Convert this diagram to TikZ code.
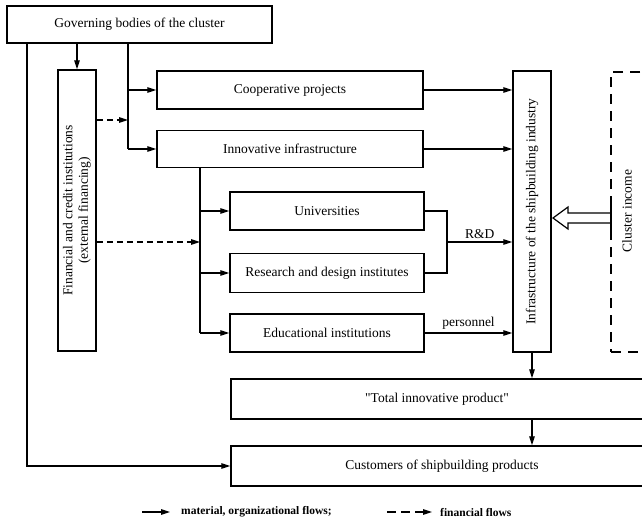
\documentclass[tikz,border=0pt]{standalone}
\usepackage{fontspec}
\setmainfont{Liberation Serif}
\usetikzlibrary{arrows.meta}
\begin{document}
\begin{tikzpicture}[x=1pt,y=-1pt]
\tikzset{
  box/.style={draw, line width=1.5pt, inner sep=0pt, align=center,
              font=\fontsize{13.5}{15}\selectfont},
  vtext/.style={rotate=90, inner sep=0pt, align=center,
              font=\fontsize{13.5}{15.5}\selectfont},
  link/.style={line width=1.4pt},
  flow/.style={line width=1.4pt, -{Triangle[length=9pt,width=5.5pt]}},
  finflow/.style={flow, dash pattern=on 6pt off 4pt},
  flowlabel/.style={midway, above=3pt, inner sep=0pt, font=\fontsize{13.5}{15}\selectfont},
  legendtext/.style={anchor=west, inner sep=0pt, font=\fontsize{11.5}{13}\selectfont\bfseries},
}
\useasboundingbox (0,0) rectangle (642,520);

% boxes
\node[box, minimum width=265pt, minimum height=37pt] (gov) at (139.5,24.5) {Governing bodies of the cluster};
\node[box, minimum width=38pt, minimum height=281pt] (fin) at (77,210.5) {};
\node[vtext] (fintext) at (fin.center) {Financial and credit institutions\\(external financing)};
\node[box, minimum width=266pt, minimum height=38pt] (coop) at (290,90) {Cooperative projects};
\node[box, minimum width=266pt, minimum height=37pt] (innov) at (290,149) {Innovative infrastructure};
\node[box, minimum width=194pt, minimum height=38pt] (univ) at (327,211) {Universities};
\node[box, minimum width=194pt, minimum height=39pt] (res) at (327,273) {Research and design institutes};
\node[box, minimum width=194pt, minimum height=38pt] (edu) at (327,333) {Educational institutions};
\node[box, minimum width=38pt, minimum height=281pt] (infra) at (532,211.5) {};
\node[vtext] (infratext) at (infra.center) {Infrastructure of the shipbuilding industry};
\node[box, dash pattern=on 10pt off 7pt, minimum width=36pt, minimum height=280pt] (income) at (629,212) {};
\node[vtext] (incometext) at (627,211) {Cluster income};
\node[box, minimum width=412pt, minimum height=40pt] (total) at (437,399) {\textquotedbl Total innovative product\textquotedbl};
\node[box, minimum width=422pt, minimum height=40pt] (cust) at (442,466) {Customers of shipbuilding products};

% branch points
\coordinate (b) at (128,0);
\coordinate (l) at (27,0);
\coordinate (t) at (200,0);
\coordinate (d1) at (128,120);
\coordinate (d2) at (200,242);
\coordinate (rd) at (447,242);

% governing bodies
\draw[flow] (gov.south -| fin.north) -- (fin.north);
\draw[link] (gov.south -| b) -- (innov.west -| b);
\draw[flow] (coop.west -| b) -- (coop.west);
\draw[flow] (innov.west -| b) -- (innov.west);
\draw[flow] (gov.south -| l) |- (cust.west);

% financing
\draw[finflow] (fin.east |- d1) -- (d1);
\draw[finflow] (fin.east |- d2) -- (d2);

% innovative infrastructure
\draw[link] (innov.south -| t) -- (edu.west -| t);
\draw[flow] (univ.west -| t) -- (univ.west);
\draw[flow] (res.west -| t) -- (res.west);
\draw[flow] (edu.west -| t) -- (edu.west);

% into the shipbuilding industry
\draw[flow] (coop.east) -- (coop.east -| infra.west);
\draw[flow] (innov.east) -- (innov.east -| infra.west);
\draw[link] (univ.east) -| (rd);
\draw[link] (res.east) -| (rd);
\draw[flow] (rd) -- (rd -| infra.west) node[flowlabel] (rdlabel) {R\&D};
\draw[flow] (edu.east) -- (edu.east -| infra.west) node[flowlabel] (perslabel) {personnel};

% cluster income (hollow arrow)
\draw[line width=1.2pt, fill=white, line join=miter]
  (553,218) -- (568,207) -- (568,213) -- (611,213) -- (611,223) -- (568,223) -- (568,229) -- cycle;
\draw[link] (611,203) -- (611,233);

% outputs
\draw[flow] (infra.south) -- (infra.south |- total.north);
\draw[flow] (total.south -| infra.south) -- (cust.north -| infra.south);

% legend
\coordinate (la1) at (142,512);
\coordinate (la2) at (170,512);
\coordinate (lb1) at (387,512);
\coordinate (lb2) at (432,512);
\draw[flow, line width=1.2pt] (la1) -- (la2);
\node[legendtext] (lega) at (181,512) {material, organizational flows;};
\draw[finflow, line width=1.2pt, dash pattern=on 9pt off 5pt] (lb1) -- (lb2);
\node[legendtext] (legb) at (440,512) {financial flows};
\end{tikzpicture}
\end{document}
